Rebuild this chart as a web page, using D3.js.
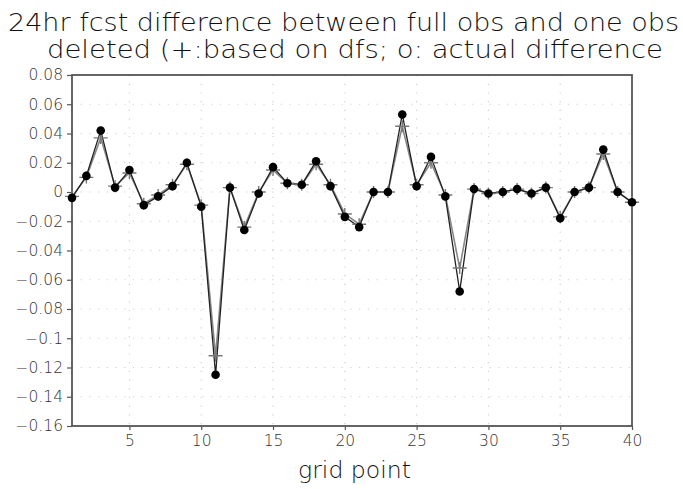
<!DOCTYPE html>
<html>
<head>
<meta charset="utf-8">
<script src="https://cdn.jsdelivr.net/npm/d3@7"></script>
<style>
  body { margin: 0; background: #fff; }
  text { font-family: "DejaVu Sans", "Liberation Sans", Arial, sans-serif; font-weight: 200; }
</style>
</head>
<body>
<div id="chart"></div>
<script>
// grid points 1..40
const gridPoints = d3.range(1, 41);

// o: actual difference
const actualDiff = [
  -0.004, 0.011, 0.042, 0.003, 0.015, -0.009, -0.003, 0.004, 0.020, -0.010,
  -0.125, 0.003, -0.026, -0.001, 0.017, 0.006, 0.005, 0.021, 0.004, -0.017,
  -0.024, 0.000, 0.000, 0.053, 0.004, 0.024, -0.003, -0.068, 0.002, -0.001,
  0.000, 0.002, -0.001, 0.003, -0.018, 0.000, 0.003, 0.029, 0.000, -0.007
];

// +: based on dfs
const dfsDiff = [
  -0.003, 0.010, 0.037, 0.004, 0.013, -0.008, -0.002, 0.005, 0.019, -0.009,
  -0.112, 0.003, -0.024, 0.000, 0.015, 0.006, 0.005, 0.019, 0.005, -0.015,
  -0.022, 0.000, 0.000, 0.045, 0.005, 0.020, -0.002, -0.052, 0.002, -0.001,
  0.000, 0.002, -0.001, 0.003, -0.017, 0.000, 0.003, 0.026, 0.000, -0.007
];

const yTicks = [0.08, 0.06, 0.04, 0.02, 0, -0.02, -0.04, -0.06, -0.08, -0.1, -0.12, -0.14, -0.16];
const xTicks = [5, 10, 15, 20, 25, 30, 35, 40];

const titleLines = [
  "24hr fcst difference between full obs and one obs",
  "deleted (+:based on dfs; o: actual difference"
];
const xLabel = "grid point";

const width = 683, height = 489;
const margin = { top: 75, right: 51, bottom: 63, left: 72 };

const svg = d3.select("#chart").append("svg")
  .attr("width", width)
  .attr("height", height);

const x = d3.scaleLinear().domain([1, 40]).range([margin.left, width - margin.right]);
const y = d3.scaleLinear().domain([-0.16, 0.08]).range([height - margin.bottom, margin.top]);

// dotted grid
svg.append("g")
  .selectAll("line")
  .data(yTicks.slice(1, -1))
  .enter().append("line")
  .attr("x1", margin.left).attr("x2", width - margin.right)
  .attr("y1", d => y(d)).attr("y2", d => y(d))
  .attr("stroke", "#d0d0d0").attr("stroke-width", 1.2)
  .attr("stroke-dasharray", "1.2,7.5");

svg.append("g")
  .selectAll("line")
  .data(xTicks.slice(0, -1))
  .enter().append("line")
  .attr("x1", d => x(d)).attr("x2", d => x(d))
  .attr("y1", margin.top).attr("y2", height - margin.bottom)
  .attr("stroke", "#d0d0d0").attr("stroke-width", 1.2)
  .attr("stroke-dasharray", "1.2,7.5");

// axes
const fmt = d3.format("~g");
const yAxis = svg.append("g")
  .attr("transform", "translate(" + margin.left + ",0)")
  .call(d3.axisLeft(y).tickValues(yTicks).tickFormat(fmt).tickSize(5).tickPadding(4));

const xAxis = svg.append("g")
  .attr("transform", "translate(0," + (height - margin.bottom) + ")")
  .call(d3.axisBottom(x).tickValues(xTicks).tickFormat(d3.format("d")).tickSize(4).tickPadding(5));

[yAxis, xAxis].forEach(ax => {
  ax.select(".domain").remove();
  ax.selectAll(".tick line").attr("stroke", "#555").attr("stroke-width", 1.2);
  ax.selectAll(".tick text")
    .attr("fill", "#333")
    .style("font-size", "15.5px")
    .style("font-family", "DejaVu Sans, Liberation Sans, Arial, sans-serif")
    .style("font-weight", "200");
});

// frame
svg.append("rect")
  .attr("x", margin.left).attr("y", margin.top)
  .attr("width", width - margin.left - margin.right)
  .attr("height", height - margin.top - margin.bottom)
  .attr("fill", "none").attr("stroke", "#555").attr("stroke-width", 1.8);

// lines
const line = d3.line().x((d, i) => x(gridPoints[i])).y(d => y(d));

svg.append("path")
  .datum(dfsDiff)
  .attr("d", line)
  .attr("fill", "none").attr("stroke", "#888").attr("stroke-width", 1.6);

svg.append("path")
  .datum(actualDiff)
  .attr("d", line)
  .attr("fill", "none").attr("stroke", "#222").attr("stroke-width", 1.3);

// + markers
svg.append("g")
  .selectAll("path")
  .data(dfsDiff)
  .enter().append("path")
  .attr("transform", (d, i) => "translate(" + x(gridPoints[i]) + "," + y(d) + ")")
  .attr("d", "M-7,0H7M0,-6V6")
  .attr("stroke", "#777").attr("stroke-width", 1.4);

// o markers
svg.append("g")
  .selectAll("circle")
  .data(actualDiff)
  .enter().append("circle")
  .attr("cx", (d, i) => x(gridPoints[i]))
  .attr("cy", d => y(d))
  .attr("r", 4.3)
  .attr("fill", "#000");

// title
svg.append("text")
  .attr("x", 8).attr("y", 31)
  .attr("textLength", 671).attr("lengthAdjust", "spacingAndGlyphs")
  .style("font-size", "25px").attr("fill", "#111")
  .text(titleLines[0]);

svg.append("text")
  .attr("x", 47).attr("y", 58)
  .attr("textLength", 616).attr("lengthAdjust", "spacingAndGlyphs")
  .style("font-size", "25px").attr("fill", "#111")
  .text(titleLines[1]);

// x label
svg.append("text")
  .attr("x", 298).attr("y", 478)
  .attr("textLength", 113).attr("lengthAdjust", "spacingAndGlyphs")
  .style("font-size", "23px").attr("fill", "#111")
  .text(xLabel);
</script>
</body>
</html>
